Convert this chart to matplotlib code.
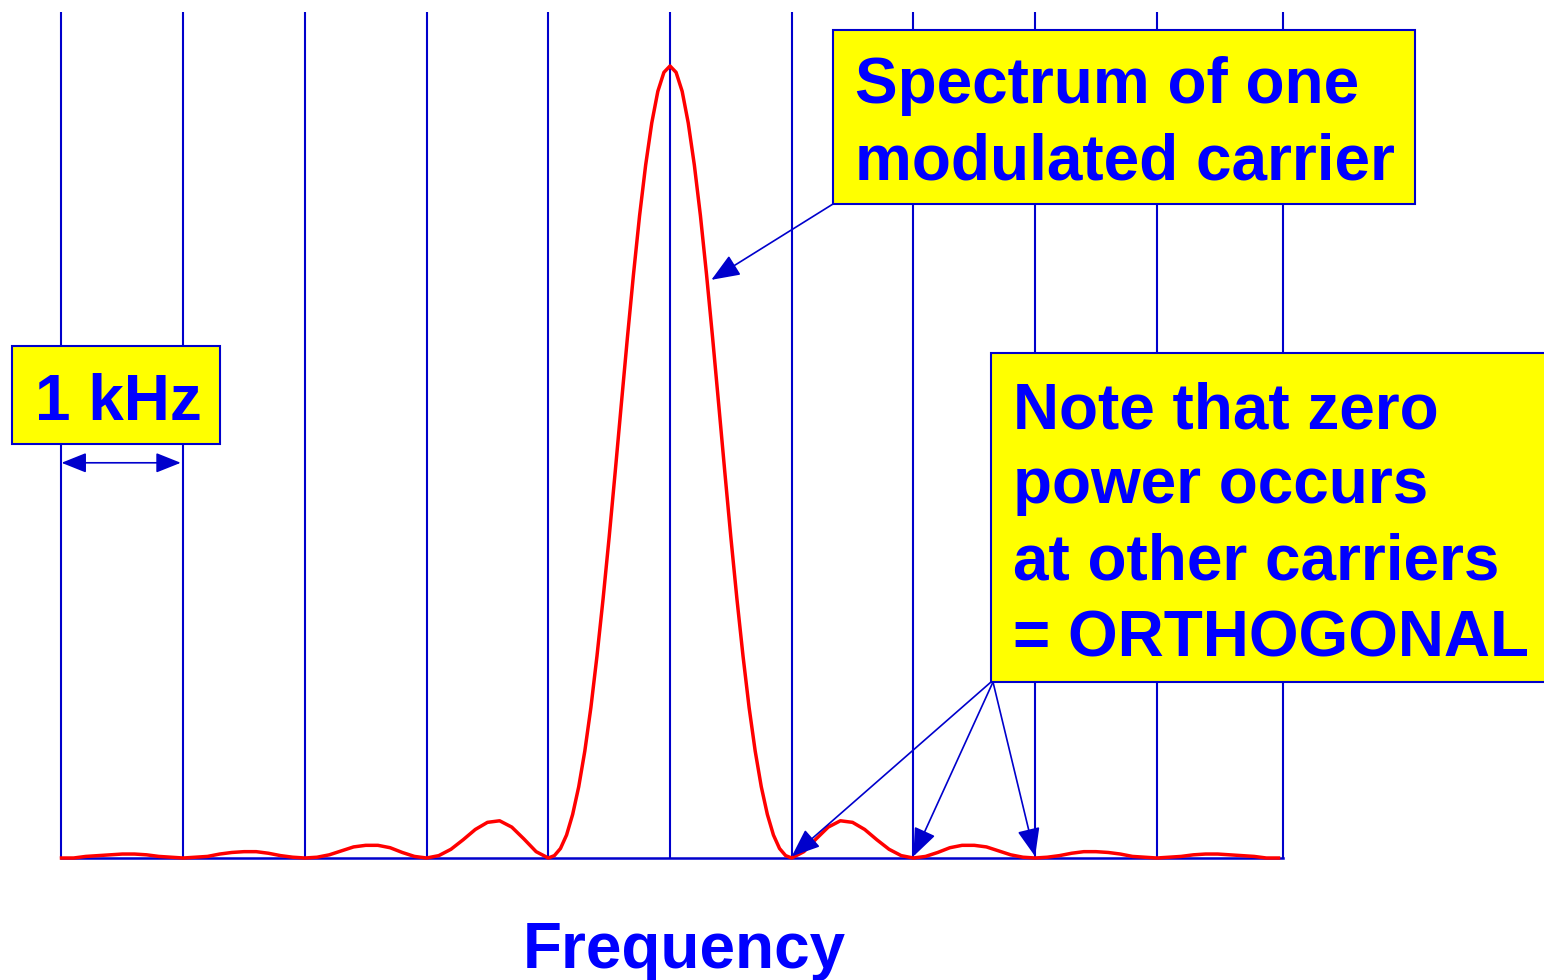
import matplotlib.pyplot as plt
import numpy as np
from matplotlib.patches import Rectangle, ArrowStyle

# carrier positions, in carrier spacings (1 kHz) from the centre carrier
carriers = [-5, -4, -3, -2, -1, 0, 1, 2, 3, 4, 5.04]

# spectrum of the centre carrier (relative power)
freq_left = np.linspace(-5, -1.1, 40)
power_left = [
    0.0, 0.000, 0.002, 0.003, 0.004, 0.005, 0.005, 0.004, 0.002, 0.001,
    0.0, 0.001, 0.002, 0.005, 0.007, 0.008, 0.008, 0.006, 0.003, 0.001,
    0.0, 0.001, 0.004, 0.009, 0.014, 0.016, 0.016, 0.013, 0.007, 0.002,
    0.0, 0.003, 0.011, 0.023, 0.036, 0.045, 0.047, 0.039, 0.024, 0.008,
]
freq_main = np.linspace(-1, 0.95, 40)
power_main = [
    0.0, 0.003, 0.012, 0.029, 0.055, 0.090, 0.135, 0.190, 0.255, 0.327,
    0.405, 0.488, 0.573, 0.657, 0.737, 0.811, 0.875, 0.928, 0.968, 0.992,
    1.0, 0.992, 0.968, 0.928, 0.875, 0.811, 0.737, 0.657, 0.573, 0.488,
    0.405, 0.327, 0.255, 0.190, 0.135, 0.090, 0.055, 0.029, 0.012, 0.003,
]
freq_right = np.linspace(1, 5, 41)
power_right = [
    0.0, 0.008, 0.024, 0.039, 0.047, 0.045, 0.036, 0.023, 0.011, 0.003,
    0.0, 0.002, 0.007, 0.013, 0.016, 0.016, 0.014, 0.009, 0.004, 0.001,
    0.0, 0.001, 0.003, 0.006, 0.008, 0.008, 0.007, 0.005, 0.002, 0.001,
    0.0, 0.001, 0.002, 0.004, 0.005, 0.005, 0.004, 0.003, 0.002, 0.000,
    0.0,
]

freq = np.concatenate([freq_left, freq_main, freq_right])
power = np.array(power_left + power_main + power_right)

W, H = 1544, 980
LINE_BLUE = "#0000CC"
TEXT_BLUE = "#0000FF"
YELLOW = "#FFFF00"
FONT = dict(family="Liberation Sans", weight="bold", size=46, color=TEXT_BLUE)


def fpx(x, y):
    # pixel position (from top left) -> figure fraction
    return x / W, 1 - y / H


fig = plt.figure(figsize=(W / 100, H / 100), dpi=100)
ax = fig.add_axes([0, 0, 1, 1])
unit = 121.7   # px per carrier spacing
scale = 792    # px per unit power
ax.set_xlim(-670 / unit, (W - 670) / unit)
ax.set_ylim(-(H - 858) / scale, 858 / scale)
ax.axis("off")

# grid of carriers + baseline
ax.vlines(carriers, 0, 1.068, color=LINE_BLUE, lw=1.5, zorder=1)
ax.plot([carriers[0], carriers[-1]], [0, 0], color=LINE_BLUE, lw=1.8, zorder=1)

# spectrum
ax.plot(freq, power, color="#FF0000", lw=2.5, zorder=2)

head = ArrowStyle("-|>", head_length=0.55, head_width=0.22)
arrow_kw = dict(arrowstyle=head, mutation_scale=32, color=LINE_BLUE, lw=1.2,
                shrinkA=0, shrinkB=0)

# boxes
boxes = [(833, 30, 1415, 204), (12, 346, 220, 444), (991, 353, 1560, 682)]
for x0, y0, x1, y1 in boxes:
    ax.add_patch(Rectangle(fpx(x0, y1), (x1 - x0) / W, (y1 - y0) / H,
                           transform=fig.transFigure, facecolor=YELLOW,
                           edgecolor=LINE_BLUE, lw=1.5, zorder=5))

labels = [
    (855, 103, "Spectrum of one"),
    (855, 180, "modulated carrier"),
    (35, 420, "1 kHz"),
    (1013, 428, "Note that zero"),
    (1013, 503, "power occurs"),
    (1013, 580, "at other carriers"),
    (1013, 656, "= ORTHOGONAL"),
    (523, 968, "Frequency"),
]
for x, y, s in labels:
    ax.text(*fpx(x, y), s, transform=fig.transFigure, va="baseline",
            ha="left", zorder=6, **FONT)

# arrows
ax.annotate("", xy=(0.34, 0.73), xytext=fpx(833, 204),
            textcoords="figure fraction", arrowprops=arrow_kw, zorder=4)
for c, start in zip(carriers[6:9], [(991, 682), (993, 682), (993, 682)]):
    ax.annotate("", xy=(c, 0.002), xytext=fpx(*start),
                textcoords="figure fraction", arrowprops=arrow_kw, zorder=4)

dbl = ArrowStyle("<|-|>", head_length=0.55, head_width=0.22)
ax.annotate("", xy=(-4.02, 0.499), xytext=(-5, 0.499),
            arrowprops=dict(arrow_kw, arrowstyle=dbl, mutation_scale=28), zorder=4)

fig.savefig("out.png", dpi=100)
